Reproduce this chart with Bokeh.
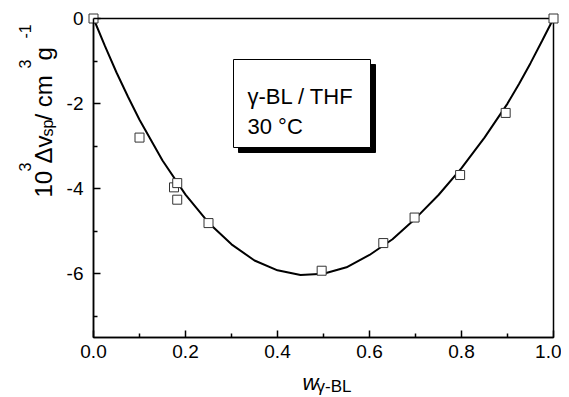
import math
from bokeh.plotting import figure
from bokeh.models import Range1d, FixedTicker, Label, BoxAnnotation, LinearAxis
from bokeh.embed import file_html
from bokeh.resources import INLINE

# ---- data ----
w_points = [0.0, 0.10, 0.175, 0.182, 0.182, 0.25, 0.496, 0.63, 0.698, 0.797, 0.896, 1.0]
dv_points = [0.0, -2.80, -3.97, -3.87, -4.26, -4.81, -5.93, -5.28, -4.68, -3.68, -2.22, 0.0]

curve_w = [0.0, 0.025, 0.05, 0.075, 0.10, 0.15, 0.20, 0.25, 0.30, 0.35, 0.40, 0.45,
           0.50, 0.55, 0.60, 0.65, 0.70, 0.75, 0.80, 0.85, 0.90, 0.925, 0.95, 0.975, 1.0]
curve_dv = [0.0, -0.65, -1.27, -1.84, -2.38, -3.34, -4.14, -4.80, -5.31, -5.69, -5.92, -6.03,
            -6.00, -5.85, -5.56, -5.19, -4.70, -4.15, -3.52, -2.80, -2.00, -1.54, -1.05, -0.53, 0.0]

x_ticks = [0.0, 0.2, 0.4, 0.6, 0.8, 1.0]
x_minor = [0.1, 0.3, 0.5, 0.7, 0.9]
x_labels = ["0.0", "0.2", "0.4", "0.6", "0.8", "1.0"]
y_ticks = [0, -2, -4, -6]
y_minor = [-1, -3, -5, -7]
y_labels = ["0", "-2", "-4", "-6"]
x_lim = (0.0, 1.0)
y_lim = (-7.5, 0.0)

FONT = "Liberation Sans"

# The plot frame covers the whole canvas; the axes box (x 0..1, y -7.5..0)
# sits at picture pixels x 93..553, y 18..337.
W, H = 561, 395
X0, X1, Y0, Y1 = 93.0, 553.0, 18.0, 337.0
def px(xp):
    return x_lim[0] + (xp - X0) / (X1 - X0) * (x_lim[1] - x_lim[0])
def py(yp):
    return y_lim[1] - (yp - Y0) / (Y1 - Y0) * (y_lim[1] - y_lim[0])

p = figure(width=W, height=H, output_backend="svg", toolbar_location=None,
           x_range=Range1d(px(0), px(W)), y_range=Range1d(py(H), py(0)),
           x_axis_location=None, y_axis_location=None,
           min_border_left=0, min_border_right=0, min_border_top=0, min_border_bottom=0)
p.background_fill_color = "white"
p.border_fill_color = "white"
p.outline_line_color = None
p.xgrid.visible = False
p.ygrid.visible = False

xax = LinearAxis(fixed_location=y_lim[0], bounds=x_lim,
                 ticker=FixedTicker(ticks=x_ticks, minor_ticks=x_minor))
xax.major_label_overrides = {t: l for t, l in zip(x_ticks, x_labels)}
xax.major_label_standoff = 7
yax = LinearAxis(fixed_location=x_lim[0], bounds=y_lim,
                 ticker=FixedTicker(ticks=y_ticks, minor_ticks=y_minor))
yax.major_label_overrides = {t: l for t, l in zip(y_ticks, y_labels)}
yax.major_label_standoff = 10
for ax in (xax, yax):
    ax.axis_line_color = "black"
    ax.axis_line_width = 1.5
    ax.major_tick_in = 7
    ax.major_tick_out = 0
    ax.minor_tick_in = 4
    ax.minor_tick_out = 0
    ax.major_tick_line_width = 1.5
    ax.minor_tick_line_width = 1.5
    ax.major_label_text_font = FONT
    ax.major_label_text_font_size = "19px"
    ax.major_label_text_color = "black"
p.add_layout(xax, "below")
p.add_layout(yax, "left")

# axes box (top and right edges)
p.add_layout(BoxAnnotation(left=x_lim[0], right=x_lim[1], bottom=y_lim[0], top=y_lim[1],
                           fill_alpha=0, line_color="black", line_width=1.5, line_alpha=1,
                           level="underlay"))

# fitted curve and data
p.line(curve_w, curve_dv, line_color="black", line_width=2)
p.scatter(w_points, dv_points, marker="square", size=9, fill_color="white",
          line_color="#333333", line_width=1)

# text box with shadow
p.add_layout(BoxAnnotation(left=px(238), right=px(375), top=py(64), bottom=py(152),
                           fill_color="black", fill_alpha=1, line_color="black", line_alpha=1))
p.add_layout(BoxAnnotation(left=px(233), right=px(370), top=py(59), bottom=py(147),
                           fill_color="white", fill_alpha=1, line_color="black",
                           line_width=1, line_alpha=1))

def lab(text, xp, yp, size, angle=0.0, style="normal"):
    p.add_layout(Label(x=px(xp), y=py(yp), x_units="data", y_units="data", text=text,
                       angle=angle, text_font=FONT, text_font_size=size,
                       text_font_style=style, text_color="black",
                       text_align="left", text_baseline="alphabetic"))

lab("\u03b3-BL / THF", 247, 96, "22px")
lab("30 \u00b0C", 247, 126, "22px")

# x axis title: w with subscript gamma-BL
lab("w", 302, 382, "22px", style="italic")
lab("\u03b3-BL", 316, 386, "17px")

# y axis title: 10^3 Δv_sp / cm^3 g^-1 (rotated)
R = math.pi / 2
lab("10", 43, 197, "24px", angle=R)
lab("3", 24, 171, "16px", angle=R)
lab("\u0394v", 43, 163, "24px", angle=R)
lab("sp", 47, 136, "16px", angle=R)
lab(" / cm", 43, 120, "24px", angle=R)
lab("3", 24, 68, "16px", angle=R)
lab(" g", 43, 60, "24px", angle=R)
lab("-1", 24, 38, "16px", angle=R)

open("out.html", "w").write(file_html(p, INLINE))
